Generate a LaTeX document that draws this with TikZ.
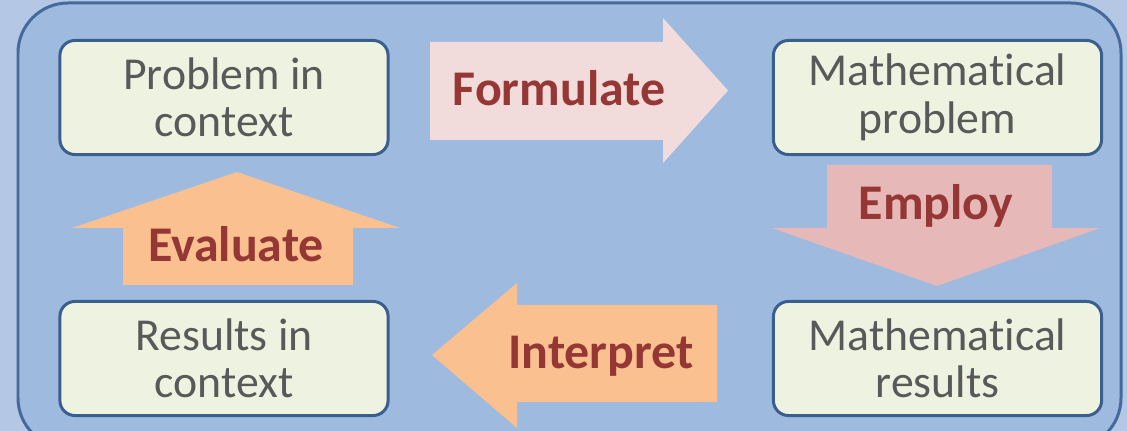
\documentclass[tikz,border=0pt]{standalone}
\usepackage{fontspec}
\setmainfont{Carlito}[Ligatures=NoCommon]
\usetikzlibrary{positioning,calc}

\definecolor{boxline}{HTML}{3B5F8C}
\definecolor{boxfill}{HTML}{EEF2E1}
\definecolor{boxtext}{HTML}{595959}
\definecolor{panel}{HTML}{9EBADF}
\definecolor{panelline}{HTML}{44699A}
\definecolor{outside}{HTML}{B4C8E5}
\definecolor{pinklight}{HTML}{F2DCDB}
\definecolor{pinkdark}{HTML}{E6B9B8}
\definecolor{peach}{HTML}{FAC090}
\definecolor{verb}{HTML}{953735}

\begin{document}
\begin{tikzpicture}[x=0.01cm,y=-0.01cm,
	stage/.style={draw=boxline,fill=boxfill,line width=0.85pt,rounded corners=0.15cm,
		minimum width=3.28cm,minimum height=1.14cm,inner sep=0pt,align=center,
		text=boxtext,font=\fontsize{13}{13.5}\selectfont},
	verbtext/.style={anchor=base,inner sep=0pt,text=verb,font=\fontsize{14.2}{16}\selectfont\bfseries}]

\useasboundingbox (0,0) rectangle (1127,431);
\clip (0,0) rectangle (1127,431);
\fill[outside] (0,0) rectangle (1127,431);
\draw[panelline,fill=panel,line width=0.85pt,rounded corners=0.5cm] (18,3) rectangle (1121,448);

% the four stages
\foreach \n/\x/\y/\t in {pic/224/97.5/{Problem in\\context},res/224/358.5/{Results in\\context},
	mpr/937.5/97.5/{Mathematical\\problem},mres/937.5/358.5/{Mathematical\\results}}
	\node[stage] (\n) at (\x,\y) {\t};

% block arrows
\fill[pinklight] (430,42) -- (663,42) -- (663,18) -- (728,90.5) -- (663,163) -- (663,140) -- (430,140) -- cycle;
\fill[pinkdark] (827,165) -- (1052,165) -- (1052,228) -- (1100,228) -- (937,286) -- (772,228) -- (827,228) -- cycle;
\fill[peach] (717,305) -- (517,305) -- (517,283) -- (432,355) -- (517,428) -- (517,402) -- (717,402) -- cycle;
\fill[peach] (123,285) -- (123,228) -- (72,228) -- (237,172) -- (400,228) -- (353,228) -- (353,285) -- cycle;

\foreach \n/\x/\y/\t in {formulate/559/106/Formulate,employ/936/220/Employ,
	interpret/601/369/Interpret,evaluate/236/262/Evaluate}
	\node[verbtext] (\n) at (\x,\y) {\t};

\end{tikzpicture}
\end{document}
